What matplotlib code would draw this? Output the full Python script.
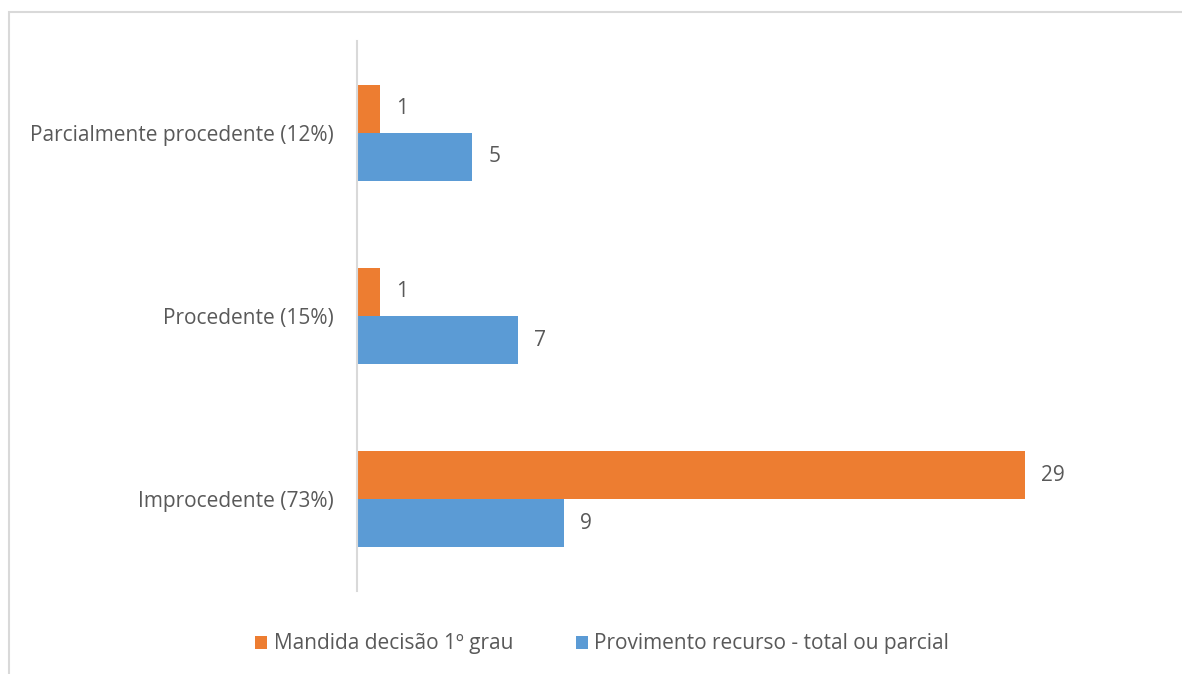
import matplotlib.pyplot as plt
import matplotlib.patches as mpatches
import numpy as np

plt.rcParams['font.family'] = ['Open Sans', 'DejaVu Sans']

categorias = ['Improcedente (73%)', 'Procedente (15%)', 'Parcialmente procedente (12%)']
mandida = [29, 1, 1]
provimento = [9, 7, 5]
series = ['Mandida decisão 1º grau', 'Provimento recurso - total ou parcial']

laranja = '#ED7D31'
azul = '#5B9BD5'
cinza_txt = '#595959'
cinza_linha = '#D9D9D9'

W, H = 1182, 674
fig = plt.figure(figsize=(W / 100, H / 100), dpi=100)

# borda externa do grafico (sai pela direita e por baixo)
fig.patches.append(mpatches.Rectangle((8.5 / W, -0.05), 1.1, 1 - 11.5 / H + 0.05,
                                      transform=fig.transFigure, fill=False,
                                      edgecolor=cinza_linha, linewidth=1.5))

ax = fig.add_axes([357 / W, (H - 591) / H, 737 / W, 550 / H])

y = np.arange(len(categorias))
h = 0.262
b1 = ax.barh(y + h / 2, mandida, height=h, color=laranja, label=series[0])
b2 = ax.barh(y - h / 2, provimento, height=h, color=azul, label=series[1])

for bars in (b1, b2):
    for r in bars:
        ax.text(r.get_width() + 0.7, r.get_y() + r.get_height() / 2, str(int(r.get_width())),
                va='center', ha='left', fontsize=15, color=cinza_txt)

ax.set_xlim(0, 32)
ax.set_ylim(-0.5, 2.5)
ax.set_yticks(y)
ax.set_yticklabels(categorias, fontsize=15, color=cinza_txt)
ax.tick_params(axis='y', length=0, pad=17)
ax.set_xticks([])
for s in ['top', 'right', 'bottom']:
    ax.spines[s].set_visible(False)
ax.spines['left'].set_color(cinza_linha)
ax.spines['left'].set_linewidth(1.5)

fig.legend(handles=[b1, b2], loc='center', bbox_to_anchor=(602 / W, (H - 644) / H),
           ncol=2, frameon=False, fontsize=15, labelcolor=cinza_txt,
           handlelength=0.6, handleheight=0.6, handletextpad=0.3, columnspacing=3.0)

fig.savefig('out.png', dpi=100)
